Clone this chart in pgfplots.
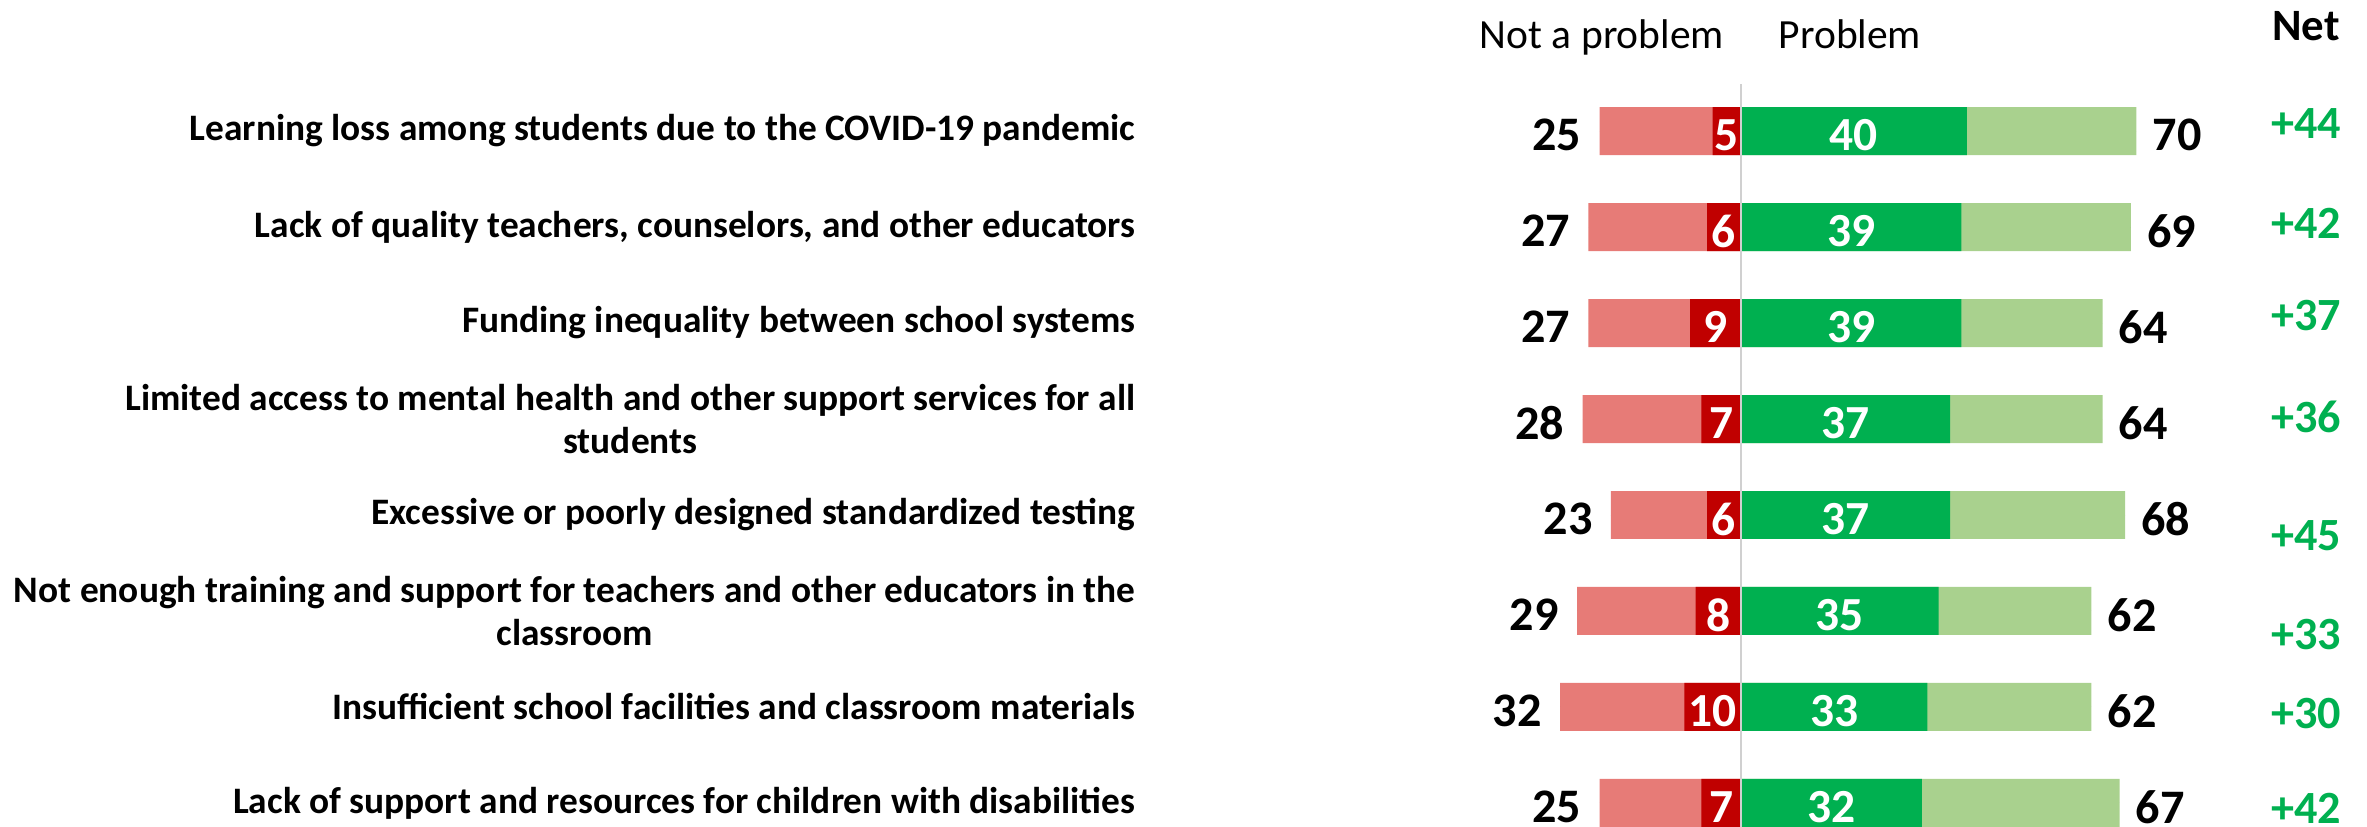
\documentclass[border=0pt]{standalone}
\usepackage{pgfplots}
\pgfplotsset{compat=1.18}
\usepackage{pgfplotstable}
\usepackage{fontspec}
\setmainfont{Carlito}

\definecolor{lred}{HTML}{E77B77}
\definecolor{dred}{HTML}{C00000}
\definecolor{dgreen}{HTML}{00B050}
\definecolor{lgreen}{HTML}{A9D18E}
\definecolor{midline}{HTML}{D0D0D0}

% nt = not a problem (total), ns = not a problem at all (strong)
% ps = very big problem (strong), pt = problem (total), ny = row of the net label
\pgfplotstableread{
row nt ns ps pt net ny
1 25 5  40 70 +44 0.917
2 27 6  39 69 +42 1.958
3 27 9  39 64 +37 2.917
4 28 7  37 64 +36 3.979
5 23 6  37 68 +45 5.219
6 29 8  35 62 +33 6.250
7 32 10 33 62 +30 7.073
8 25 7  32 67 +42 8.052
}\datatable

\pgfplotsset{
  lbl/.style={only marks, mark=*, mark size=0pt, mark options={draw=none, fill=none},
    point meta=explicit symbolic, nodes near coords={\pgfplotspointmeta}},
}

\begin{document}
\begin{tikzpicture}
\useasboundingbox (0,0) rectangle (710.1bp,247.8bp);
\begin{axis}[
  at={(0,0)}, anchor=south west,
  scale only axis, width=710.1bp, height=247.8bp,
  xmin=-308.1, xmax=110.8,
  ymin=-0.365, ymax=8.24, y dir=reverse,
  axis line style={draw=none},
  xtick=\empty,
  ytick={1,...,8},
  major tick length=0pt,
  yticklabels={
    Learning loss among students due to the COVID-19 pandemic,
    {Lack of quality teachers, counselors, and other educators},
    Funding inequality between school systems,
    {Limited access to mental health and other support services for all\\students},
    Excessive or poorly designed standardized testing,
    {Not enough training and support for teachers and other educators in the\\classroom},
    Insufficient school facilities and classroom materials,
    Lack of support and resources for children with disabilities},
  yticklabel style={anchor=east, inner sep=0pt, xshift=340.8bp, align=center,
    font=\fontsize{11.25}{12.9}\selectfont\bfseries},
  bar width=0.5,
]
\addplot[xbar, bar shift=0pt, fill=lred, draw=none] table[x expr=-\thisrow{nt}, y=row]{\datatable};
\addplot[xbar, bar shift=0pt, fill=dred, draw=none] table[x expr=-\thisrow{ns}, y=row]{\datatable};
\addplot[xbar, bar shift=0pt, fill=lgreen, draw=none] table[x=pt, y=row]{\datatable};
\addplot[xbar, bar shift=0pt, fill=dgreen, draw=none] table[x=ps, y=row]{\datatable};
\addplot[midline, line width=0.6bp] coordinates {(0,0.51) (0,8.3)};

% totals at the bar ends
\addplot[lbl,
  every node near coord/.append style={anchor=east, inner sep=0pt, xshift=-5.3bp, yshift=-1.2bp, font=\fontsize{14.5}{14.5}\selectfont\bfseries}]
  table[x expr=-\thisrow{nt}, y=row, meta=nt]{\datatable};
\addplot[lbl,
  every node near coord/.append style={anchor=west, inner sep=0pt, xshift=4.7bp, yshift=-1.2bp, font=\fontsize{14.5}{14.5}\selectfont\bfseries}]
  table[x=pt, y=row, meta=pt]{\datatable};
% values inside the dark segments
\addplot[lbl, every node near coord/.append style={anchor=center, inner sep=0pt, yshift=-1.2bp, text=white, font=\fontsize{14.3}{14.3}\selectfont\bfseries}]
  table[x expr=-\thisrow{ns}/2, y=row, meta=ns]{\datatable};
\addplot[lbl, every node near coord/.append style={anchor=center, inner sep=0pt, yshift=-1.2bp, text=white, font=\fontsize{14.3}{14.3}\selectfont\bfseries}]
  table[x expr=\thisrow{ps}/2, y=row, meta=ps]{\datatable};
% net column
\addplot[lbl, every node near coord/.append style={anchor=center, inner sep=0pt, text=dgreen, font=\fontsize{13.9}{13.9}\selectfont\bfseries}]
  table[x expr=100, y=ny, meta=net]{\datatable};

\node[anchor=base, font=\fontsize{12.5}{12.5}\selectfont] at (axis cs:-24.6,0.139) {Not a problem};
\node[anchor=base, font=\fontsize{12.5}{12.5}\selectfont] at (axis cs:19.3,0.139) {Problem};
\node[anchor=base, font=\fontsize{13.5}{13.5}\selectfont\bfseries] at (axis cs:100,0.052) {Net};
\end{axis}
\end{tikzpicture}
\end{document}
